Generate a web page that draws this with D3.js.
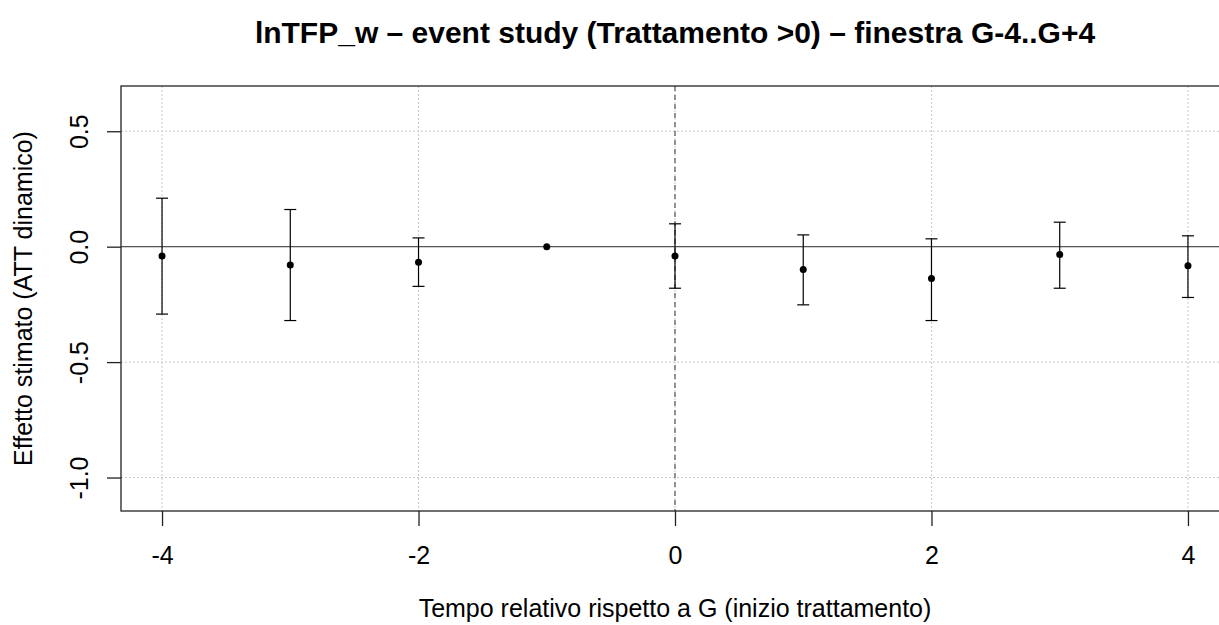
<!DOCTYPE html>
<html>
<head>
<meta charset="utf-8">
<script src="https://cdn.jsdelivr.net/npm/d3@7"></script>
<style>
  body { margin: 0; background: #fff; }
  text { font-family: "Liberation Sans", Arial, sans-serif; }
</style>
</head>
<body>
<div id="chart"></div>
<script>
// event times relative to G
var eventTimes = [-4, -3, -2, -1, 0, 1, 2, 3, 4];
// estimated dynamic ATT and confidence bounds
var estimates = [-0.040, -0.079, -0.067, 0.000, -0.040, -0.099, -0.138, -0.034, -0.083];
var upperCI   = [0.210, 0.161, 0.038, 0.000, 0.099, 0.051, 0.034, 0.106, 0.047];
var lowerCI   = [-0.292, -0.320, -0.172, 0.000, -0.180, -0.252, -0.320, -0.180, -0.220];
var xTicks = [-4, -2, 0, 2, 4];
var yTicks = [0.5, 0.0, -0.5, -1.0];

var W = 1219, H = 625;
var box = { left: 121, right: 1229, top: 86, bottom: 511 };

var svg = d3.select('#chart').append('svg')
    .attr('width', W)
    .attr('height', H);

var x = d3.scaleLinear().domain([-4.32, 4.32]).range([box.left, box.right]);
var y = d3.scaleLinear().domain([-1.145, 0.696]).range([box.bottom, box.top]);

// grid
svg.append('g').selectAll('line').data(xTicks).enter().append('line')
    .attr('x1', function(d) { return x(d); }).attr('x2', function(d) { return x(d); })
    .attr('y1', box.top).attr('y2', box.bottom)
    .attr('stroke', '#c8c8c8').attr('stroke-dasharray', '2,2').attr('stroke-width', 1);
svg.append('g').selectAll('line').data(yTicks).enter().append('line')
    .attr('x1', box.left).attr('x2', box.right)
    .attr('y1', function(d) { return y(d); }).attr('y2', function(d) { return y(d); })
    .attr('stroke', '#c8c8c8').attr('stroke-dasharray', '2,2').attr('stroke-width', 1);

// reference lines
svg.append('line')
    .attr('x1', box.left).attr('x2', box.right)
    .attr('y1', y(0)).attr('y2', y(0))
    .attr('stroke', '#555').attr('stroke-width', 1.3);
svg.append('line')
    .attr('x1', x(0)).attr('x2', x(0))
    .attr('y1', box.top).attr('y2', box.bottom)
    .attr('stroke', '#555').attr('stroke-dasharray', '5,4').attr('stroke-width', 1.2);

// box
svg.append('rect')
    .attr('x', box.left).attr('y', box.top)
    .attr('width', box.right - box.left).attr('height', box.bottom - box.top)
    .attr('fill', 'none').attr('stroke', '#222').attr('stroke-width', 1.3);

// axes
var xAxis = d3.axisBottom(x).tickValues(xTicks).tickSize(15).tickPadding(20)
    .tickFormat(d3.format('d'));
var gx = svg.append('g').attr('transform', 'translate(0,' + box.bottom + ')').call(xAxis);
gx.select('.domain').remove();
gx.selectAll('line').attr('stroke', '#222').attr('stroke-width', 1.3);
gx.selectAll('text').attr('font-size', 25).attr('fill', '#000')
    .text(function(d) { return d < 0 ? '-' + Math.abs(d) : d; });

var yAxis = d3.axisLeft(y).tickValues(yTicks).tickSize(14).tickFormat(d3.format('.1f'));
var gy = svg.append('g').attr('transform', 'translate(' + box.left + ',0)').call(yAxis);
gy.select('.domain').remove();
gy.selectAll('line').attr('stroke', '#222').attr('stroke-width', 1.3);
gy.selectAll('text').remove();
gy.selectAll('.tick').append('text')
    .attr('transform', 'translate(-33,0) rotate(-90)')
    .attr('text-anchor', 'middle')
    .attr('font-size', 25).attr('fill', '#000')
    .text(function(d) { return d3.format('.1f')(d).replace('\u2212', '-'); });

// error bars
var rows = eventTimes.map(function(t, i) {
    return { t: t, est: estimates[i], lo: lowerCI[i], hi: upperCI[i] };
});
var bars = rows.filter(function(d) { return d.hi !== d.lo; });
var eb = svg.append('g').attr('stroke', '#000').attr('stroke-width', 1.2);
eb.selectAll('.v').data(bars).enter().append('line')
    .attr('x1', function(d) { return x(d.t); }).attr('x2', function(d) { return x(d.t); })
    .attr('y1', function(d) { return y(d.hi); }).attr('y2', function(d) { return y(d.lo); });
eb.selectAll('.hi').data(bars).enter().append('line')
    .attr('x1', function(d) { return x(d.t) - 6; }).attr('x2', function(d) { return x(d.t) + 6; })
    .attr('y1', function(d) { return y(d.hi); }).attr('y2', function(d) { return y(d.hi); });
eb.selectAll('.lo').data(bars).enter().append('line')
    .attr('x1', function(d) { return x(d.t) - 6; }).attr('x2', function(d) { return x(d.t) + 6; })
    .attr('y1', function(d) { return y(d.lo); }).attr('y2', function(d) { return y(d.lo); });

// points
svg.append('g').selectAll('circle').data(rows).enter().append('circle')
    .attr('cx', function(d) { return x(d.t); })
    .attr('cy', function(d) { return y(d.est); })
    .attr('r', 3.5).attr('fill', '#000');

// titles
svg.append('text')
    .attr('x', 675).attr('y', 43)
    .attr('text-anchor', 'middle').attr('font-size', 30).attr('font-weight', 'bold')
    .text('lnTFP_w \u2013 event study (Trattamento >0) \u2013 finestra G-4..G+4');
svg.append('text')
    .attr('x', 675).attr('y', 617)
    .attr('text-anchor', 'middle').attr('font-size', 25)
    .text('Tempo relativo rispetto a G (inizio trattamento)');
svg.append('text')
    .attr('transform', 'translate(32,' + ((box.top + box.bottom) / 2) + ') rotate(-90)')
    .attr('text-anchor', 'middle').attr('font-size', 25)
    .text('Effetto stimato (ATT dinamico)');
</script>
</body>
</html>
